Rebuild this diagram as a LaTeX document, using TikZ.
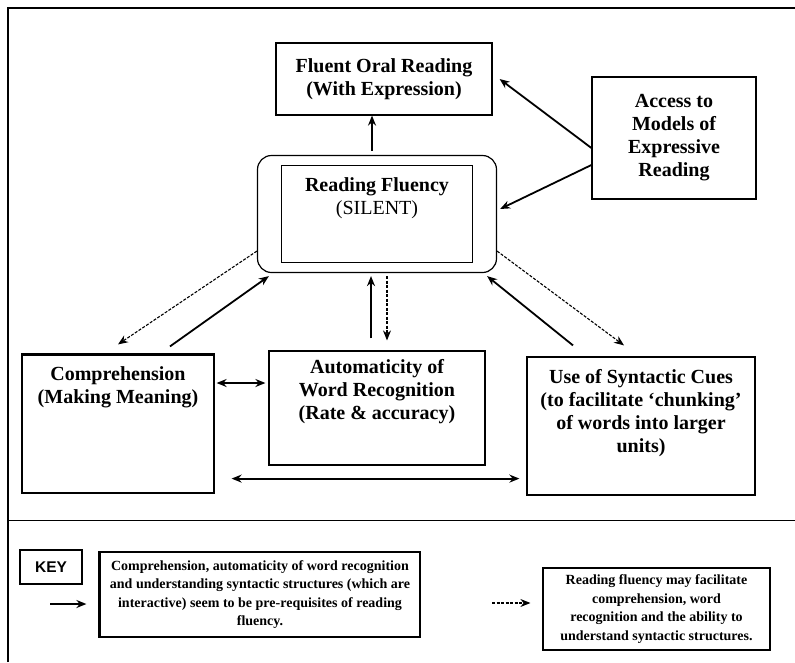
\documentclass[tikz,border=0pt]{standalone}
\usepackage{fontspec}
\setmainfont{Liberation Serif}
\newfontfamily\keyfont{Liberation Sans}
\usetikzlibrary{positioning,arrows.meta}

\tikzset{
  box/.style={draw, line width=1.2pt, inner sep=0pt},
  title/.style={font=\fontsize{20}{23}\selectfont\bfseries, align=center, inner sep=0pt},
  note/.style={font=\fontsize{14}{18.5}\selectfont\bfseries, align=center, inner sep=0pt},
  push/.style={-{Stealth[length=10pt,width=8pt]}, line width=1.8pt},
  pull/.style={-{Stealth[length=10pt,width=8pt]}, line width=1.1pt, dash pattern=on 3pt off 1.5pt},
  both/.style={{Stealth[length=10pt,width=8pt]}-{Stealth[length=10pt,width=8pt]}, line width=1.8pt}
}

\begin{document}
\begin{tikzpicture}[x=1pt,y=-1pt]
\useasboundingbox (0,0) rectangle (795,662);
% frame
\draw[line width=2pt] (8,662) -- (8,8) -- (795,8);
\draw[line width=1pt] (8,520) -- (795,520);

% top row
\node[box, title, minimum width=216, minimum height=72] (oral) at (384,79) {Fluent Oral Reading\\(With Expression)};
\node[box, title, minimum width=164, minimum height=122] (access) at (674,138) {Access to\\Models of\\Expressive\\Reading};
\node[box, rounded corners=14pt, minimum width=239, minimum height=117] (fluency) at (377,214) {};
\node[box, minimum width=191, minimum height=97] (inner) at (377,214) {};
\node[title, below=13pt of inner.north] (fluencytext) {Reading Fluency\\\mdseries(SILENT)};

% bottom row
\node[box, minimum width=192, minimum height=138] (comp) at (118,424) {};
\draw[line width=3pt] (comp.north west) -- (comp.north east);
\node[title, below=12pt of comp.north] (comptext) {Comprehension\\(Making Meaning)};
\node[box, minimum width=216, minimum height=114] (auto) at (377,408) {};
\node[title, below=9pt of auto.north] (autotext) {Automaticity of\\Word Recognition\\(Rate \& accuracy)};
\node[box, minimum width=228, minimum height=138] (syn) at (641,426) {};
\node[title, below=13pt of syn.north] (syntext) {Use of Syntactic Cues\\(to facilitate ‘chunking’\\of words into larger\\units)};

% connectors
\draw[push] ([xshift=-5pt,yshift=4pt]fluency.north) -- ([xshift=-12pt]oral.south);
\draw[push] ([yshift=-10pt]access.west) -- ([xshift=7pt]oral.east);
\draw[push] ([yshift=-27pt]access.west) -- ([xshift=3pt,yshift=5pt]fluency.east);
\draw[pull] ([yshift=22pt]fluency.south west) -- ([yshift=10pt]comp.north);
\draw[push] ([xshift=52pt,yshift=8pt]comp.north) -- ([xshift=12pt,yshift=-3pt]fluency.south west);
\draw[push] ([xshift=-6pt,yshift=12pt]auto.north) -- ([xshift=-6pt,yshift=-3pt]fluency.south);
\draw[pull] ([xshift=10pt,yshift=-3pt]fluency.south) -- ([xshift=10pt,yshift=10pt]auto.north);
\draw[push] ([xshift=-68pt,yshift=11pt]syn.north) -- ([xshift=-10pt,yshift=-3pt]fluency.south east);
\draw[pull] ([yshift=22pt]fluency.south east) -- ([xshift=-17pt,yshift=11pt]syn.north);
\draw[both] ([xshift=2pt,yshift=41pt]comp.east) -- ([xshift=-3pt,yshift=25pt]auto.west);
\draw[both] ([xshift=17pt,yshift=15pt]comp.south east) -- ([xshift=-7pt,yshift=17pt]syn.south west);

% key
\node[box, minimum width=62, minimum height=34, font=\keyfont\bfseries\fontsize{15.5}{18}\selectfont] (key) at (51,567) {KEY};
\node[box, note, minimum width=320, minimum height=85] (note1) at (260,594.5) {Comprehension, automaticity of word recognition\\and understanding syntactic structures (which are\\interactive) seem to be pre-requisites of reading\\fluency.};
\draw[line width=3pt] (note1.north west) -- (note1.south west);
\node[box, note, minimum width=227, minimum height=82] (note2) at (656.5,609) {Reading fluency may facilitate\\comprehension, word\\recognition and the ability to\\understand syntactic structures.};
\coordinate (keysolid) at (50,604);
\coordinate (keydotted) at (492,603);
\draw[push] (keysolid) -- ([xshift=-13pt,yshift=-9.5pt]note1.west);
\draw[pull] (keydotted) -- ([xshift=-12pt,yshift=6pt]note2.west);
\end{tikzpicture}
\end{document}
